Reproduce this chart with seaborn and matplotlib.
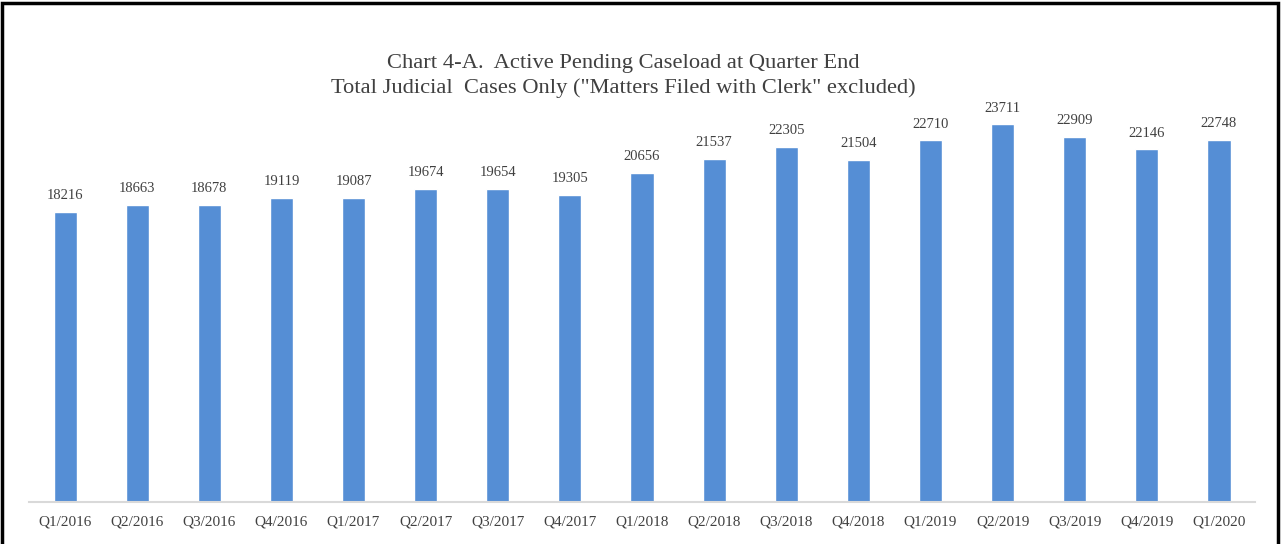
import matplotlib.pyplot as plt
import pandas as pd
import seaborn as sns
from matplotlib.patches import Rectangle

quarters = [
    "Q1/2016", "Q2/2016", "Q3/2016", "Q4/2016",
    "Q1/2017", "Q2/2017", "Q3/2017", "Q4/2017",
    "Q1/2018", "Q2/2018", "Q3/2018", "Q4/2018",
    "Q1/2019", "Q2/2019", "Q3/2019", "Q4/2019",
    "Q1/2020",
]
caseload = [
    18216, 18663, 18678, 19119,
    19087, 19674, 19654, 19305,
    20656, 21537, 22305, 21504,
    22710, 23711, 22909, 22146,
    22748,
]

df = pd.DataFrame({"quarter": quarters, "caseload": caseload})

sns.set_theme(style="white")
plt.rcParams["font.family"] = ["Liberation Serif", "DejaVu Serif"]

text_color = "#404040"
bar_color = "#558ED5"

fig = plt.figure(figsize=(12.83, 5.44), dpi=100)
ax = fig.add_axes([0.0226, 0.0772, 0.9556, 0.7318])

sns.barplot(data=df, x="quarter", y="caseload", color=bar_color, width=0.32,
            saturation=1, ax=ax)

ax.set_ylim(0, 25000)
ax.set_xlim(-0.5, len(quarters) - 0.5)
for side in ["top", "right", "left"]:
    ax.spines[side].set_visible(False)
ax.spines["bottom"].set_color("#D9D9D9")
ax.spines["bottom"].set_linewidth(1.5)
ax.set_yticks([])
ax.set_xlabel("")
ax.set_ylabel("")
ax.tick_params(axis="x", length=0, pad=10, labelsize=11, labelcolor=text_color)

for container in ax.containers:
    ax.bar_label(container, fmt="%d", padding=7, fontsize=10.5, color=text_color)

fig.text(0.486, 0.883, "Chart 4-A.  Active Pending Caseload at Quarter End",
         ha="center", va="center", fontsize=16.2, color=text_color)
fig.text(0.486, 0.838, "Total Judicial  Cases Only (\"Matters Filed with Clerk\" excluded)",
         ha="center", va="center", fontsize=16.2, color=text_color)

# chart frame
fig.patches.append(Rectangle((0.0015, -0.01), 0.9945, 1.005, transform=fig.transFigure,
                             fill=False, edgecolor="black", linewidth=2.5))

fig.savefig("out.png", dpi=100)
